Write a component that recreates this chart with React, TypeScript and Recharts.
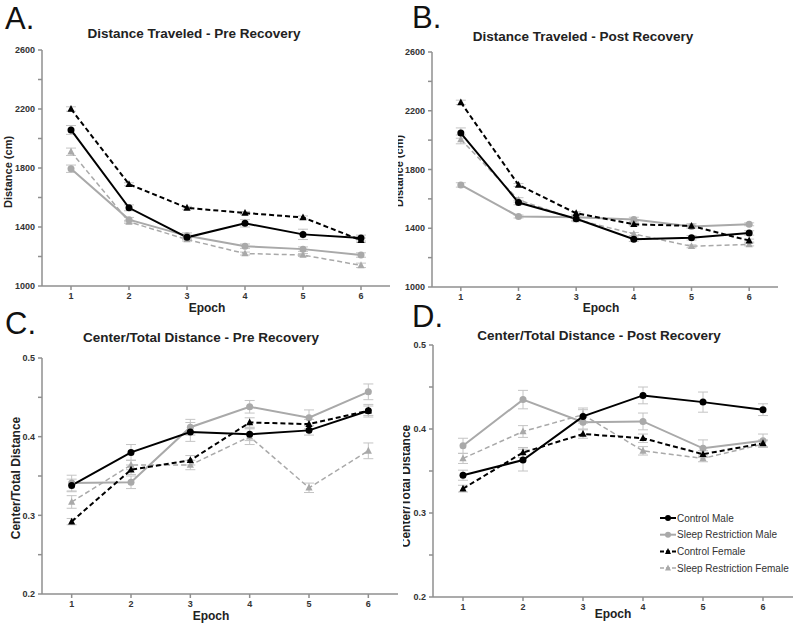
import React from 'react';
import { LineChart, Line, XAxis, YAxis, ErrorBar } from 'recharts';

const FONT = '"Liberation Sans", Arial, sans-serif';
const AXIS_GREY = '#8f8f8f';
const LIGHT = '#a9a9a9';

const epochs = [1, 2, 3, 4, 5, 6];

// A. distance traveled, pre recovery (cm)
const preDistControlMale = [2058, 1530, 1330, 1425, 1350, 1325];
const preDistSleepMale = [1795, 1450, 1340, 1270, 1250, 1210];
const preDistControlFemale = [2200, 1690, 1530, 1495, 1465, 1310];
const preDistSleepFemale = [1910, 1435, 1315, 1220, 1210, 1140];
const preDistErrCM = [30, 20, 15, 25, 35, 20];
const preDistErrSM = [25, 15, 20, 15, 15, 15];
const preDistErrCF = [15, 10, 10, 10, 10, 15];
const preDistErrSF = [25, 10, 10, 10, 10, 15];

// B. distance traveled, post recovery (cm)
const postDistControlMale = [2048, 1575, 1465, 1325, 1335, 1368];
const postDistSleepMale = [1695, 1480, 1475, 1460, 1412, 1427];
const postDistControlFemale = [2257, 1695, 1502, 1427, 1416, 1316];
const postDistSleepFemale = [2005, 1593, 1460, 1361, 1277, 1290];
const postDistErrCM = [35, 15, 15, 15, 15, 15];
const postDistErrSM = [15, 10, 10, 15, 10, 10];
const postDistErrCF = [15, 10, 10, 10, 15, 10];
const postDistErrSF = [30, 15, 10, 10, 10, 10];

// C. center / total distance, pre recovery
const preCtrControlMale = [0.338, 0.38, 0.406, 0.403, 0.408, 0.433];
const preCtrSleepMale = [0.341, 0.342, 0.412, 0.438, 0.424, 0.457];
const preCtrControlFemale = [0.292, 0.358, 0.37, 0.418, 0.416, 0.433];
const preCtrSleepFemale = [0.317, 0.364, 0.364, 0.4, 0.335, 0.382];
const preCtrErrCM = [0.008, 0.01, 0.012, 0.008, 0.006, 0.008];
const preCtrErrSM = [0.01, 0.008, 0.01, 0.008, 0.01, 0.01];
const preCtrErrCF = [0.004, 0.006, 0.006, 0.006, 0.006, 0.006];
const preCtrErrSF = [0.008, 0.006, 0.006, 0.01, 0.006, 0.01];

// D. center / total distance, post recovery
const postCtrControlMale = [0.345, 0.363, 0.415, 0.44, 0.432, 0.423];
const postCtrSleepMale = [0.38, 0.435, 0.408, 0.409, 0.377, 0.386];
const postCtrControlFemale = [0.329, 0.372, 0.394, 0.389, 0.37, 0.383];
const postCtrSleepFemale = [0.365, 0.397, 0.417, 0.374, 0.365, 0.382];
const postCtrErrCM = [0.006, 0.013, 0.008, 0.01, 0.012, 0.007];
const postCtrErrSM = [0.009, 0.011, 0.008, 0.01, 0.01, 0.008];
const postCtrErrCF = [0.004, 0.006, 0.005, 0.005, 0.004, 0.004];
const postCtrErrSF = [0.006, 0.007, 0.008, 0.005, 0.004, 0.004];

const distTicks = [1000, 1200, 1400, 1600, 1800, 2000, 2200, 2400, 2600];
const ratioTicks = [0.2, 0.25, 0.3, 0.35, 0.4, 0.45, 0.5];

const seriesNames = ['Control Male', 'Sleep Restriction Male', 'Control Female', 'Sleep Restriction Female'];

function makeRows(cm: number[], sm: number[], cf: number[], sf: number[], e: number[][]) {
  return epochs.map((epoch, i) => ({
    epoch,
    cm: cm[i], sm: sm[i], cf: cf[i], sf: sf[i],
    cmErr: e[0][i], smErr: e[1][i], cfErr: e[2][i], sfErr: e[3][i],
  }));
}

const triangle = (color: string) => (props: any) => {
  const { cx, cy, index } = props;
  if (cx == null || cy == null) return <g key={index} />;
  return (
    <polygon
      key={index}
      points={`${cx},${cy - 4} ${cx - 3.6},${cy + 2.8} ${cx + 3.6},${cy + 2.8}`}
      fill={color}
    />
  );
};

// legend drawn in the page overlay, inside panel D
function LegendBox({ x, y }: { x: number; y: number }) {
  const items = [
    { name: seriesNames[0], color: '#000', dash: undefined, tri: false, w: 2 },
    { name: seriesNames[1], color: LIGHT, dash: undefined, tri: false, w: 2 },
    { name: seriesNames[2], color: '#000', dash: '4 2', tri: true, w: 2 },
    { name: seriesNames[3], color: LIGHT, dash: '4 2', tri: true, w: 1.5 },
  ];
  return (
    <g transform={`translate(${x},${y})`}>
      {items.map((it, i) => {
        const cy = i * 16.7;
        return (
          <g key={it.name}>
            <line x1={0} x2={16} y1={cy} y2={cy} stroke={it.color} strokeWidth={it.w} strokeDasharray={it.dash} />
            {it.tri ? (
              <polygon points={`8,${cy - 3.5} 5,${cy + 2.5} 11,${cy + 2.5}`} fill={it.color} />
            ) : (
              <circle cx={8} cy={cy} r={3} fill={it.color} />
            )}
            <text x={17} y={cy + 3.6} fontSize={10} fill="#333" fontFamily={FONT}>
              {it.name}
            </text>
          </g>
        );
      })}
    </g>
  );
}

interface PanelProps {
  left: number;
  top: number;
  width: number;
  height: number;
  margin: { top: number; right: number; bottom: number; left: number };
  yWidth: number;
  rows: any[];
  domain: [number, number];
  ticks: number[];
  labelStep: number;
  decimals: number;
}

function Panel({ left, top, width, height, margin, yWidth, rows, domain, ticks, labelStep, decimals }: PanelProps) {
  const fmt = (v: number) => {
    const k = (v - domain[0]) / labelStep;
    return Math.abs(k - Math.round(k)) < 1e-6 ? v.toFixed(decimals) : '';
  };
  const tickStyle = { fill: '#333', fontSize: 9, fontWeight: 700, fontFamily: FONT };
  const err = { width: 5, stroke: '#c4c4c4', strokeWidth: 1, direction: 'y' as const };
  return (
    <div style={{ position: 'absolute', left, top, width, height, overflow: 'hidden' }}>
      <LineChart width={width} height={height} data={rows} margin={margin}>
        <XAxis
          dataKey="epoch"
          type="number"
          domain={[0.5, 6.5]}
          ticks={epochs}
          height={20}
          tick={tickStyle}
          tickSize={4}
          tickMargin={3}
          stroke={AXIS_GREY}
          strokeWidth={1.5}
          allowDataOverflow
        />
        <YAxis
          type="number"
          domain={domain}
          ticks={ticks}
          width={yWidth}
          tick={tickStyle}
          tickFormatter={fmt}
          tickSize={4}
          tickMargin={3}
          stroke={AXIS_GREY}
          strokeWidth={1.5}
          allowDataOverflow
        />
        <Line
          dataKey="sf"
          stroke={LIGHT}
          strokeWidth={1.5}
          strokeDasharray="5 3"
          dot={triangle(LIGHT)}
          isAnimationActive={false}
        >
          <ErrorBar dataKey="sfErr" {...err} />
        </Line>
        <Line
          dataKey="sm"
          stroke={LIGHT}
          strokeWidth={2}
          dot={{ r: 3.5, fill: LIGHT, stroke: LIGHT, strokeWidth: 0 }}
          isAnimationActive={false}
        >
          <ErrorBar dataKey="smErr" {...err} />
        </Line>
        <Line
          dataKey="cf"
          stroke="#000"
          strokeWidth={2}
          strokeDasharray="5 3"
          dot={triangle('#000')}
          isAnimationActive={false}
        >
          <ErrorBar dataKey="cfErr" {...err} />
        </Line>
        <Line
          dataKey="cm"
          stroke="#000"
          strokeWidth={2}
          dot={{ r: 3.5, fill: '#000', stroke: '#000', strokeWidth: 0 }}
          isAnimationActive={false}
        >
          <ErrorBar dataKey="cmErr" {...err} />
        </Line>
      </LineChart>
    </div>
  );
}

const rowsA = makeRows(preDistControlMale, preDistSleepMale, preDistControlFemale, preDistSleepFemale,
  [preDistErrCM, preDistErrSM, preDistErrCF, preDistErrSF]);
const rowsB = makeRows(postDistControlMale, postDistSleepMale, postDistControlFemale, postDistSleepFemale,
  [postDistErrCM, postDistErrSM, postDistErrCF, postDistErrSF]);
const rowsC = makeRows(preCtrControlMale, preCtrSleepMale, preCtrControlFemale, preCtrSleepFemale,
  [preCtrErrCM, preCtrErrSM, preCtrErrCF, preCtrErrSF]);
const rowsD = makeRows(postCtrControlMale, postCtrSleepMale, postCtrControlFemale, postCtrSleepFemale,
  [postCtrErrCM, postCtrErrSM, postCtrErrCF, postCtrErrSF]);

export default function App() {
  const title = { fontSize: 13.5, fontWeight: 700, fill: '#222', fontFamily: FONT, textAnchor: 'middle' as const };
  const axisLabel = { fontSize: 11, fontWeight: 700, fill: '#222', fontFamily: FONT, textAnchor: 'middle' as const };
  const letter = { fontSize: 31, fill: '#111', fontFamily: FONT };
  return (
    <div style={{ position: 'fixed', left: 0, top: 0, width: 800, height: 627, background: '#fff', overflow: 'hidden' }}>
      <Panel left={0} top={0} width={400} height={310} margin={{ top: 50, right: 10, bottom: 4, left: 0 }}
        yWidth={42} rows={rowsA} domain={[1000, 2600]} ticks={distTicks} labelStep={400} decimals={0} />
      <Panel left={400} top={0} width={400} height={310} margin={{ top: 52, right: 22, bottom: 3, left: 0 }}
        yWidth={32} rows={rowsB} domain={[1000, 2600]} ticks={distTicks} labelStep={400} decimals={0} />
      <Panel left={0} top={310} width={400} height={317} margin={{ top: 48, right: 2, bottom: 13, left: 0 }}
        yWidth={42} rows={rowsC} domain={[0.2, 0.5]} ticks={ratioTicks} labelStep={0.1} decimals={1} />
      <Panel left={400} top={310} width={400} height={317} margin={{ top: 35, right: 7, bottom: 10, left: 0 }}
        yWidth={33} rows={rowsD} domain={[0.2, 0.5]} ticks={ratioTicks} labelStep={0.1} decimals={1} />
      <svg width={800} height={627} style={{ position: 'absolute', left: 0, top: 0, pointerEvents: 'none' }}>
        <defs>
          <clipPath id="clipB">
            <rect x={398} y={0} width={402} height={627} />
          </clipPath>
          <clipPath id="clipD">
            <rect x={403} y={0} width={397} height={627} />
          </clipPath>
        </defs>
        <text x={5} y={29} {...letter}>A.</text>
        <text x={412} y={28} {...letter}>B.</text>
        <text x={5} y={334} {...letter}>C.</text>
        <text x={412} y={327} {...letter}>D.</text>

        <text x={194} y={38} {...title}>Distance Traveled - Pre Recovery</text>
        <text x={583} y={41} {...title}>Distance Traveled - Post Recovery</text>
        <text x={201} y={342} {...title}>Center/Total Distance - Pre Recovery</text>
        <text x={599} y={340} {...title}>Center/Total Distance - Post Recovery</text>

        <text x={207} y={312} {...axisLabel} fontSize={12}>Epoch</text>
        <text x={601} y={312} {...axisLabel} fontSize={12}>Epoch</text>
        <text x={211} y={620} {...axisLabel} fontSize={12}>Epoch</text>
        <text x={613} y={618} {...axisLabel} fontSize={12}>Epoch</text>

        <text transform="translate(12,172) rotate(-90)" {...axisLabel}>Distance (cm)</text>
        <text transform="translate(20,478) rotate(-90)" {...axisLabel} fontSize={12}>Center/Total Distance</text>
        <g clipPath="url(#clipB)">
          <text transform="translate(403,171) rotate(-90)" {...axisLabel}>Distance (cm)</text>
        </g>
        <g clipPath="url(#clipD)">
          <text transform="translate(410,486) rotate(-90)" {...axisLabel} fontSize={12}>Center/Total Distance</text>
        </g>

        <LegendBox x={660} y={518} />
      </svg>
    </div>
  );
}
